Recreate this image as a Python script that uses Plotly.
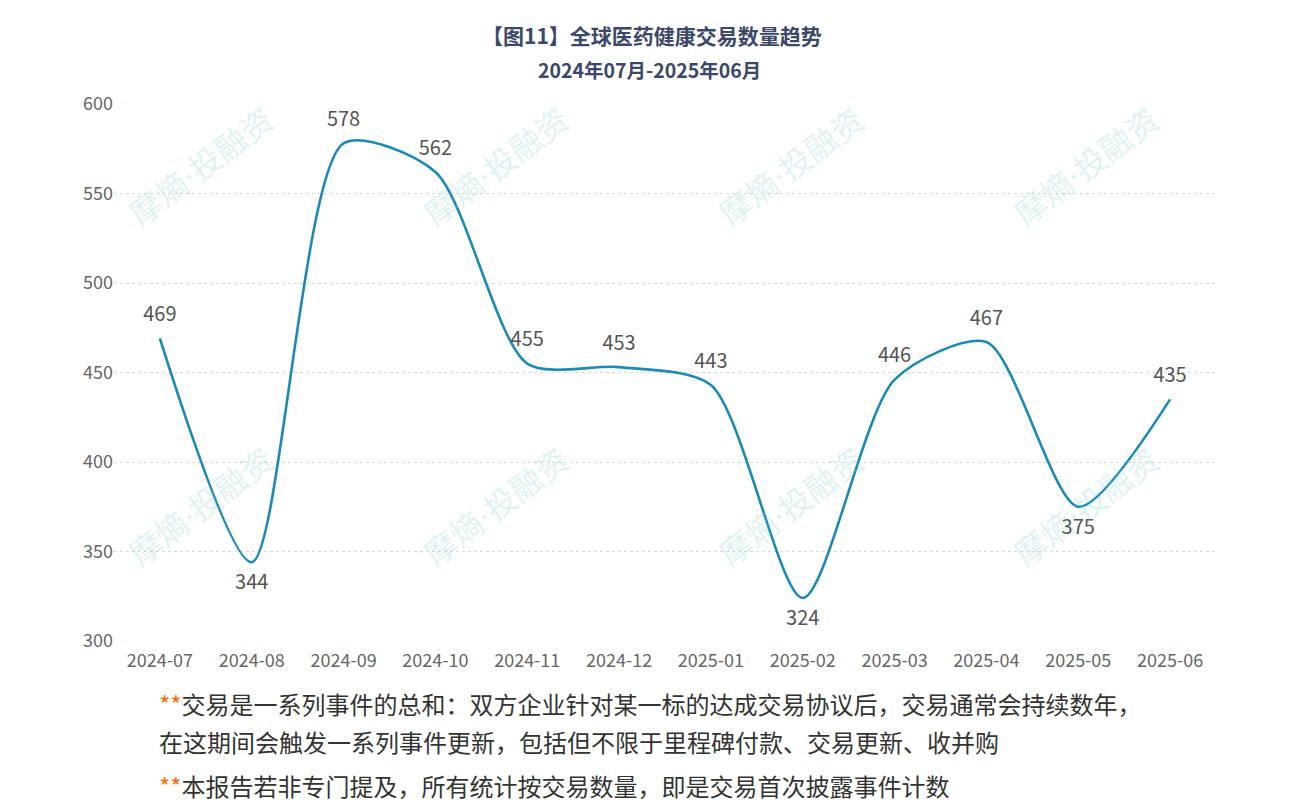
import plotly.graph_objects as go

months = ["2024-07", "2024-08", "2024-09", "2024-10", "2024-11", "2024-12",
          "2025-01", "2025-02", "2025-03", "2025-04", "2025-05", "2025-06"]
deals = [469, 344, 578, 562, 455, 453, 443, 324, 446, 467, 375, 435]
label_pos = ["top center", "bottom center", "top center", "top center", "top center", "top center",
             "top center", "bottom center", "top center", "top center", "bottom center", "top center"]
y_ticks = [300, 350, 400, 450, 500, 550, 600]

title_text = "【图11】全球医药健康交易数量趋势"
subtitle_text = "2024年07月-2025年06月"
note1a = "交易是一系列事件的总和：双方企业针对某一标的达成交易协议后，交易通常会持续数年，"
note1b = "在这期间会触发一系列事件更新，包括但不限于里程碑付款、交易更新、收并购"
note2 = "本报告若非专门提及，所有统计按交易数量，即是交易首次披露事件计数"
watermark = "摩熵<span style='font-family:DejaVu Sans'>·</span>投融资"

FONT = "Noto Sans CJK SC, Microsoft YaHei, sans-serif"
OFF = 8  # default page body margin
W, H = 1296 - 2 * OFF, 812 - 2 * OFF
L, T = 114 - OFF, 104 - OFF
R = W - (1216 - OFF)
B = H - (641 - OFF)
PW, PH = W - L - R, H - T - B

def px(x):
    return (x - OFF - L) / PW

def py(y):
    return (H - B - (y - OFF)) / PH

fig = go.Figure()
fig.add_trace(go.Scatter(
    x=months, y=deals, mode="lines+markers+text",
    line=dict(color="#1c8ab4", width=2.6, shape="spline", smoothing=0.75),
    marker=dict(size=18, opacity=0),
    text=[str(v) for v in deals], textposition=label_pos,
    textfont=dict(size=20, color="#555555", family=FONT),
    hoverinfo="x+y", showlegend=False, cliponaxis=False,
))

annotations = [
    dict(text="<b>" + title_text + "</b>", x=px(652), y=py(35), xref="paper", yref="paper",
         yanchor="middle", showarrow=False, font=dict(size=21, color="#3b4868", family=FONT)),
    dict(text="<b>" + subtitle_text + "</b>", x=px(649), y=py(70), xref="paper", yref="paper",
         yanchor="middle", showarrow=False, font=dict(size=19.5, color="#3b4868", family=FONT)),
    dict(text="<span style='color:#ff6a00'>**</span>" + note1a, x=px(157), y=py(703),
         xref="paper", yref="paper", xanchor="left", yanchor="middle", showarrow=False,
         font=dict(size=24, color="#333333", family=FONT)),
    dict(text=note1b, x=px(157), y=py(741),
         xref="paper", yref="paper", xanchor="left", yanchor="middle", showarrow=False,
         font=dict(size=24, color="#333333", family=FONT)),
    dict(text="<span style='color:#ff6a00'>**</span>" + note2, x=px(157), y=py(786),
         xref="paper", yref="paper", xanchor="left", yanchor="middle", showarrow=False,
         font=dict(size=24, color="#333333", family=FONT)),
]

for cy in [165, 505]:
    for cx in [200, 495, 790, 1085]:
        annotations.append(dict(
            text=watermark, x=px(cx), y=py(cy), xref="paper", yref="paper",
            xanchor="center", yanchor="middle",
            showarrow=False, textangle=-37,
            font=dict(size=32, color="rgba(120,205,210,0.25)", family=FONT)))

fig.update_layout(
    width=W, height=H,
    margin=dict(l=L, r=R, t=T, b=B),
    paper_bgcolor="white", plot_bgcolor="white",
    font=dict(family=FONT),
    annotations=annotations,
    xaxis=dict(type="category", categoryorder="array", categoryarray=months,
               range=[-0.5, 11.5], showgrid=False, showline=False, zeroline=False,
               ticks="outside", ticklen=3, tickcolor="rgba(0,0,0,0)",
               tickfont=dict(size=18, color="#666666", family=FONT)),
    yaxis=dict(range=[300, 600], tickvals=y_ticks, showgrid=True,
               gridcolor="#d9d9d9", griddash="dot", gridwidth=1,
               zeroline=False, showline=False, ticks="",
               tickfont=dict(size=18, color="#666666", family=FONT)),
)

fig.write_html("out.html")
